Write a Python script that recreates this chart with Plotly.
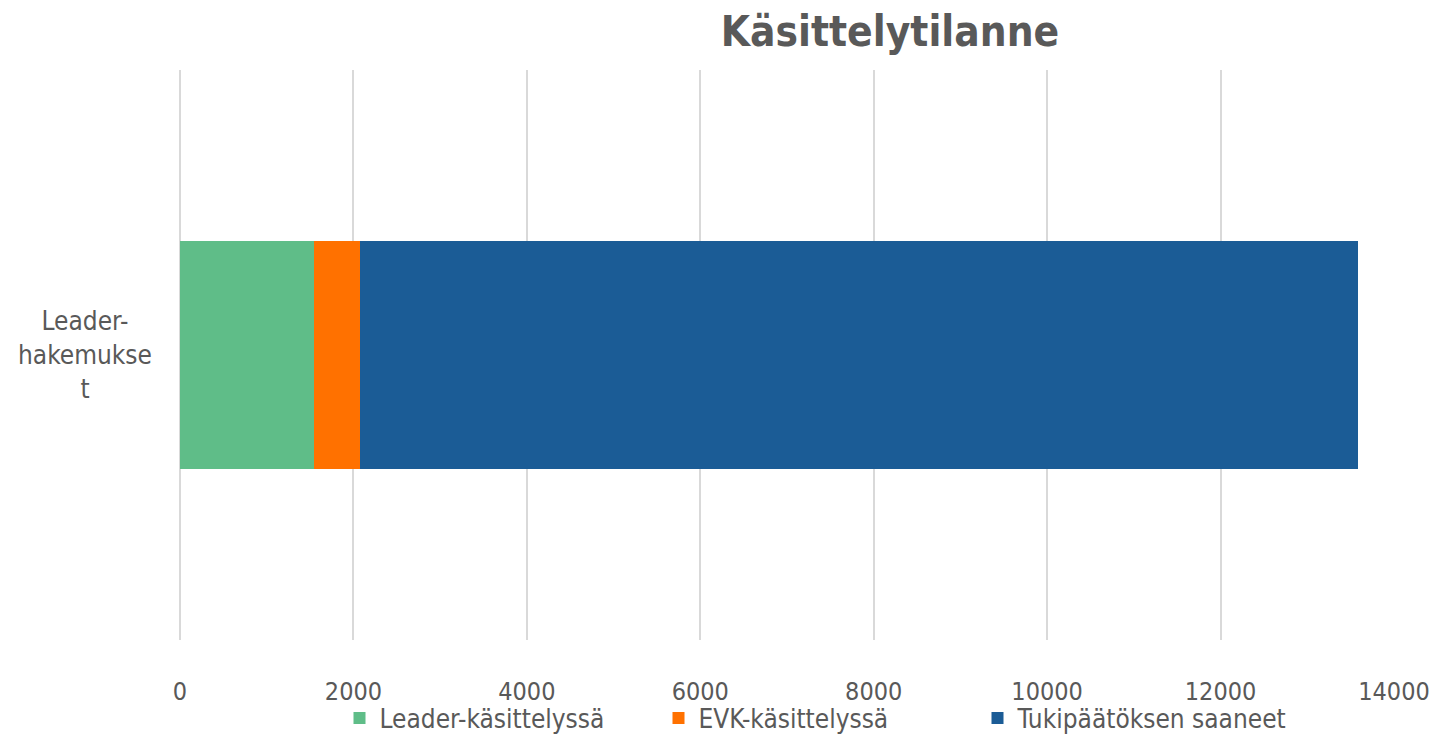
import plotly.graph_objects as go

categories = ["Leader-hakemukset"]
series_names = ["Leader-käsittelyssä", "EVK-käsittelyssä", "Tukipäätöksen saaneet"]
leader_kasittelyssa = [1545]
evk_kasittelyssa = [530]
tukipaatoksen_saaneet = [11510]
x_ticks = [0, 2000, 4000, 6000, 8000, 10000, 12000, 14000]

colors = ["#5FBD88", "#FF7100", "#1B5C96"]
font_family = "Tahoma, 'DejaVu Sans Condensed', 'DejaVu Sans', sans-serif"

# the page body adds an 8px margin, so the figure is slightly smaller than the window
W, H = 1438, 727

fig = go.Figure()
for name, vals, col in zip(series_names,
                           [leader_kasittelyssa, evk_kasittelyssa, tukipaatoksen_saaneet],
                           colors):
    fig.add_trace(go.Bar(
        x=vals, y=categories, name=name, orientation="h",
        marker=dict(color=col, line=dict(width=0)),
    ))

fig.update_layout(
    barmode="stack",
    bargap=0.6,
    width=W, height=H,
    plot_bgcolor="white", paper_bgcolor="white",
    margin=dict(l=172, r=52, t=62, b=95, autoexpand=False),
    font=dict(family=font_family, color="#595959", size=24),
    title=dict(
        text="<b>Käsittelytilanne</b>",
        x=882 / W, xanchor="center", xref="container",
        y=(H - 23) / H, yanchor="middle", yref="container",
        font=dict(family="'DejaVu Sans Condensed', 'DejaVu Sans', sans-serif",
                  size=42, color="#595959"),
    ),
    legend=dict(
        orientation="h", x=810 / W, xanchor="center", xref="container",
        y=(H - 710) / H, yanchor="middle", yref="container",
        font=dict(size=26, color="#595959"),
        bgcolor="rgba(0,0,0,0)",
        entrywidth=274, entrywidthmode="pixels",
        traceorder="normal",
    ),
    showlegend=True,
)

fig.update_xaxes(
    range=[0, 14000], tickvals=x_ticks, ticktext=[str(t) for t in x_ticks],
    showgrid=True, gridcolor="#D9D9D9", gridwidth=1.5,
    zeroline=True, zerolinecolor="#D9D9D9", zerolinewidth=1.5,
    showline=False, ticks="", ticklabelstandoff=34, automargin=False,
    tickfont=dict(size=25, color="#595959"),
)
fig.update_yaxes(showticklabels=False, showgrid=False, zeroline=False,
                 showline=False, automargin=False)

# category label, centered multi-line like the original
fig.add_annotation(
    text="Leader-<br>hakemukse<br>t", xref="paper", yref="y",
    x=-0.0785, y=categories[0], xanchor="center", yanchor="middle",
    showarrow=False, align="center",
    font=dict(size=26, color="#595959"),
)

fig.write_html("out.html")
